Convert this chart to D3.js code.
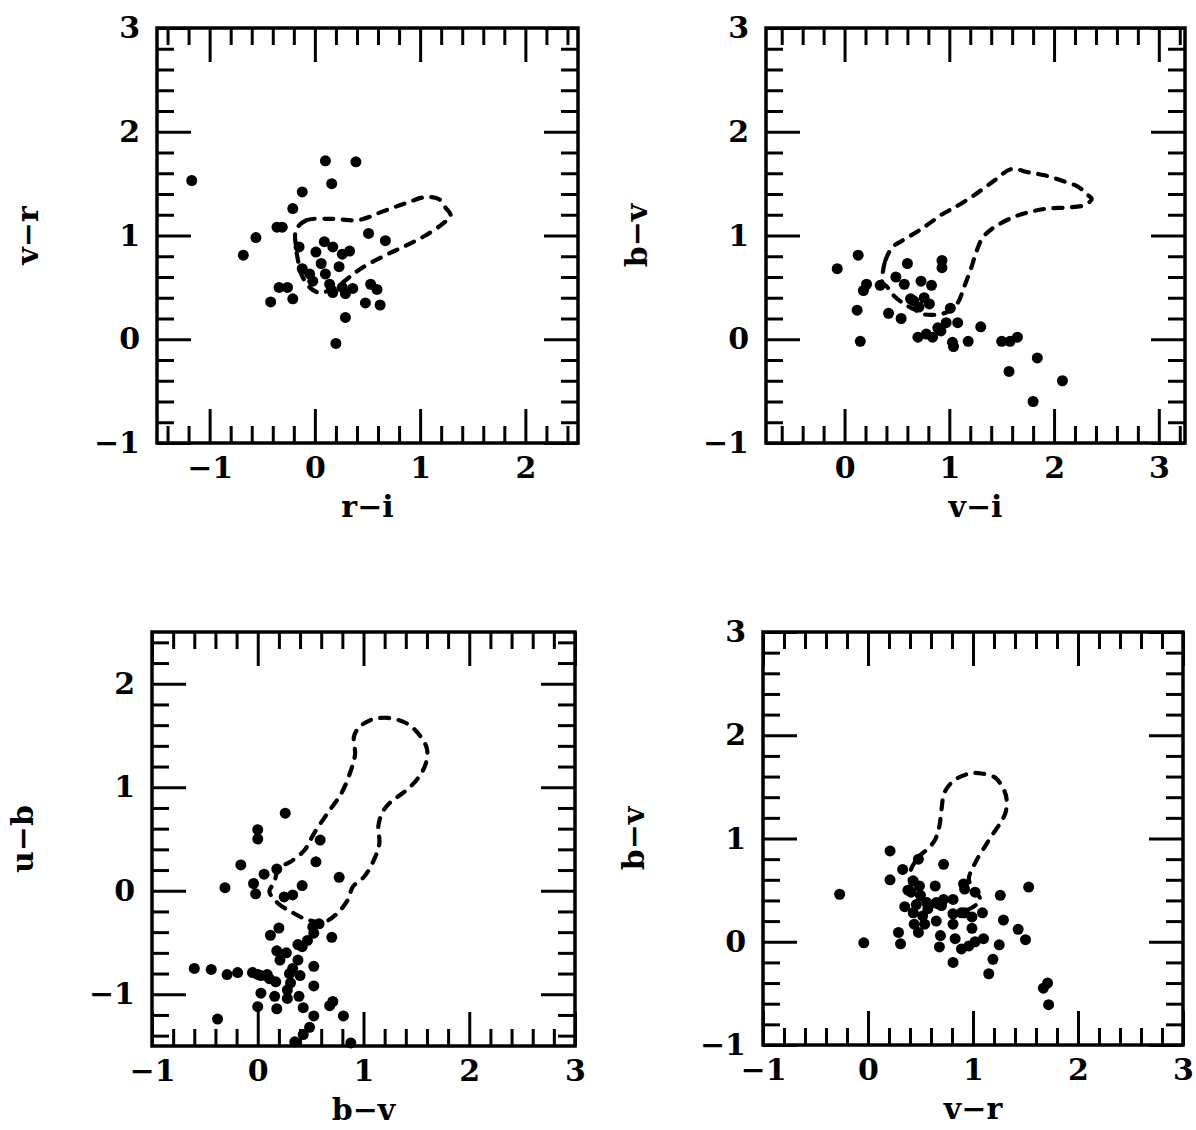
<!DOCTYPE html>
<html><head><meta charset="utf-8">
<script src="https://cdn.jsdelivr.net/npm/d3@7"></script>
<style>
html,body{margin:0;padding:0;background:#fff;}
svg text{font-family:"DejaVu Serif",serif;font-weight:bold;fill:#000;}
</style></head>
<body><svg id="c" width="1196" height="1130"></svg>
<script>
// ---------- data ----------
// panel 1: r-i vs v-r
const riVrPoints = [[-1.17,1.53],[0.10,1.72],[0.39,1.71],[0.16,1.50],[-0.12,1.42],[-0.21,1.26],[-0.36,1.08],[-0.31,1.08],
 [-0.56,0.98],[-0.68,0.81],[0.51,1.02],[0.67,0.95],[0.09,0.94],[0.17,0.89],[0.01,0.84],[0.33,0.85],[0.26,0.82],[-0.15,0.89],
 [0.23,0.70],[0.06,0.73],[-0.05,0.63],[0.10,0.63],[0.14,0.53],[0.17,0.45],[0.26,0.50],[0.36,0.49],[0.29,0.44],[0.53,0.53],
 [0.59,0.48],[0.48,0.35],[0.62,0.33],[-0.34,0.50],[-0.26,0.50],[-0.42,0.36],[-0.21,0.39],[0.29,0.21],[0.20,-0.04],[-0.12,0.68],[-0.02,0.56]];
const riVrContour = [[-0.18,1.05],[-0.085,1.145],[0.167,1.16],[0.42,1.15],[0.64,1.23],[0.86,1.31],[1.05,1.37],[1.18,1.35],[1.24,1.27],
 [1.29,1.19],[1.21,1.11],[1.05,1.0],[0.86,0.90],[0.67,0.81],[0.45,0.69],[0.33,0.60],[0.20,0.50],[0.04,0.45],[-0.05,0.50],[-0.13,0.63],[-0.16,0.76],[-0.18,0.89]];
// panel 2: v-i vs b-v
const viBvPoints = [[-0.07,0.68],[0.13,0.81],[0.21,0.53],[0.18,0.47],[0.12,0.28],[0.15,-0.02],[0.34,0.52],[0.42,0.25],[0.54,0.20],
 [0.60,0.73],[0.49,0.60],[0.57,0.53],[0.63,0.39],[0.73,0.56],[0.83,0.52],[0.76,0.40],[0.81,0.34],[0.71,0.31],[0.93,0.76],[0.93,0.69],
 [1.01,0.30],[0.70,0.02],[0.78,0.05],[0.84,0.02],[0.89,0.11],[0.97,0.16],[1.08,0.16],[1.03,-0.03],[1.04,-0.07],[1.18,-0.02],[1.30,0.12],
 [1.50,-0.02],[1.58,-0.02],[1.65,0.02],[1.57,-0.31],[1.84,-0.18],[2.08,-0.40],[1.80,-0.60],[0.92,0.08],[0.66,0.37]];
const viBvContour = [[0.36,0.60],[0.39,0.76],[0.46,0.89],[0.55,0.95],[0.73,1.06],[0.94,1.21],[1.05,1.27],[1.24,1.39],[1.43,1.53],[1.59,1.64],
 [1.75,1.61],[1.91,1.58],[2.07,1.53],[2.23,1.47],[2.31,1.40],[2.36,1.35],[2.28,1.29],[2.13,1.27],[1.94,1.26],[1.78,1.23],[1.62,1.18],
 [1.43,1.08],[1.32,0.98],[1.26,0.85],[1.21,0.69],[1.14,0.50],[1.08,0.35],[1.00,0.27],[0.89,0.24],[0.76,0.24],[0.66,0.29],[0.57,0.34],[0.47,0.42],[0.41,0.50],[0.36,0.55]];
// panel 3: b-v vs u-b
const bvUbPoints = [[0.26,0.75],[0.0,0.59],[0.0,0.50],[0.59,0.49],[0.55,0.28],[-0.16,0.25],[0.77,0.13],[0.18,0.21],[0.06,0.16],[-0.04,0.07],
 [-0.31,0.03],[-0.02,-0.03],[0.42,0.05],[0.33,-0.04],[0.25,-0.06],[0.20,-0.36],[0.12,-0.43],[0.58,-0.32],[0.53,-0.41],[0.70,-0.45],
 [0.47,-0.48],[0.42,-0.54],[0.18,-0.58],[0.27,-0.60],[0.38,-0.67],[0.21,-0.67],[-0.60,-0.75],[-0.44,-0.76],[-0.29,-0.81],[-0.19,-0.79],
 [-0.05,-0.79],[0.03,-0.82],[0.11,-0.85],[0.17,-0.88],[0.33,-0.75],[0.53,-0.73],[0.40,-0.82],[0.31,-0.89],[0.53,-0.92],[0.28,-1.04],
 [0.39,-1.02],[0.03,-0.99],[0.16,-1.02],[0.0,-1.12],[0.18,-1.14],[0.43,-1.13],[0.71,-1.07],[0.68,-1.11],[0.53,-1.21],[0.81,-1.21],
 [-0.38,-1.24],[0.49,-1.32],[0.43,-1.39],[0.35,-1.46],[0.88,-1.47],[0.30,-0.80],[0.28,-0.96],[0.38,-0.52],[0.52,-0.35],[0.0,-0.81],[0.09,-0.81]];
const bvUbContour = [[0.11,-0.01],[0.19,-0.12],[0.31,-0.20],[0.47,-0.28],[0.63,-0.30],[0.75,-0.22],[0.85,-0.09],[0.90,0.04],[1.01,0.14],
 [1.10,0.30],[1.15,0.46],[1.14,0.62],[1.18,0.76],[1.26,0.86],[1.38,0.95],[1.51,1.08],[1.59,1.23],[1.60,1.37],[1.54,1.49],[1.42,1.61],
 [1.23,1.67],[1.07,1.65],[0.96,1.58],[0.91,1.49],[0.92,1.32],[0.88,1.16],[0.79,0.94],[0.66,0.75],[0.53,0.55],[0.44,0.39],[0.31,0.28],
 [0.20,0.22],[0.16,0.10],[0.13,0.04]];
// panel 4: v-r vs b-v
const vrBvPoints = [[-0.27,0.46],[-0.04,-0.01],[0.21,0.88],[0.21,0.60],[0.48,0.80],[0.33,0.70],[0.43,0.59],[0.38,0.50],[0.49,0.54],
 [0.50,0.45],[0.35,0.34],[0.46,0.36],[0.56,0.38],[0.65,0.38],[0.72,0.41],[0.81,0.41],[0.64,0.54],[0.72,0.75],[0.91,0.56],[0.92,0.51],
 [1.02,0.48],[1.26,0.45],[1.53,0.53],[0.43,0.28],[0.52,0.25],[0.44,0.17],[0.54,0.17],[0.48,0.09],[0.65,0.20],[0.81,0.27],[0.89,0.28],
 [0.99,0.24],[1.09,0.28],[0.81,0.17],[0.99,0.13],[1.29,0.21],[1.43,0.12],[1.50,0.02],[0.29,0.09],[0.31,-0.02],[0.69,0.06],[0.68,-0.05],
 [0.83,0.03],[0.89,-0.07],[0.96,-0.04],[1.02,0.0],[1.10,0.03],[1.25,-0.03],[0.81,-0.20],[1.19,-0.17],[1.15,-0.31],[1.71,-0.40],
 [1.67,-0.45],[1.72,-0.61],[0.57,0.32],[0.41,0.48],[0.70,0.35],[0.92,0.28]];
const vrBvContour = [[0.40,0.67],[0.48,0.82],[0.57,0.90],[0.64,0.99],[0.68,1.12],[0.70,1.28],[0.73,1.45],[0.83,1.57],[0.97,1.63],[1.08,1.63],
 [1.21,1.59],[1.29,1.48],[1.32,1.38],[1.31,1.25],[1.26,1.15],[1.18,1.03],[1.10,0.90],[1.04,0.80],[0.99,0.70],[0.96,0.61],[1.00,0.51],
 [1.07,0.41],[1.02,0.35],[0.92,0.30],[0.80,0.28],[0.70,0.32],[0.60,0.36],[0.51,0.41],[0.44,0.48],[0.41,0.54]];
// tick labels
const xTicksA = [-1,0,1,2];
const xTicksB = [0,1,2,3];
const xTicksC = [-1,0,1,2,3];
const yTicksA = [-1,0,1,2,3];
const yTicksC = [-1,0,1,2];
const titles = ["r−i","v−r","v−i","b−v","b−v","u−b","v−r","b−v"];

// ---------- drawing ----------
const svg = d3.select("#c");
const fmt = d => (d < 0 ? "−" + Math.abs(d) : String(d));
const FS = 30;

function panel(o) {
  const g = svg.append("g");
  const x = d3.scaleLinear().domain(o.xDom).range([o.left, o.left + o.w]);
  const y = d3.scaleLinear().domain(o.yDom).range([o.top + o.h, o.top]);
  const step = 0.2;
  const rng = dom => d3.range(Math.ceil(dom[0]/step - 1e-6), Math.floor(dom[1]/step + 1e-6) + 1).map(k => +(k*step).toFixed(2));
  const xMinor = rng(o.xDom).filter(v => Math.abs(v - Math.round(v)) > 1e-6);
  const yMinor = rng(o.yDom).filter(v => Math.abs(v - Math.round(v)) > 1e-6);
  const xMajor = d3.range(Math.ceil(o.xDom[0]), Math.floor(o.xDom[1]) + 1);
  const yMajor = d3.range(Math.ceil(o.yDom[0]), Math.floor(o.yDom[1]) + 1);
  const MAJ = 34, MIN = 17;
  function ax(axis, tr, vals, size, labels, pad) {
    const a = axis.tickValues(vals).tickSize(-size).tickPadding(pad);
    if (labels) a.tickFormat(d => labels.includes(d) ? fmt(d) : ""); else a.tickFormat("");
    const s = g.append("g").attr("transform", tr).call(a);
    s.select(".domain").remove();
    s.selectAll("line").attr("stroke", "#000").attr("stroke-width", 3);
    s.selectAll("text").attr("font-size", FS).attr("fill", "#000").style("font-family", '"DejaVu Serif", serif').style("font-weight", "bold");
    return s;
  }
  const ib = o.top + o.h, il = o.left, ir = o.left + o.w, it = o.top;
  ax(d3.axisBottom(x), `translate(0,${ib})`, xMinor, MIN, null, 0);
  ax(d3.axisBottom(x), `translate(0,${ib})`, xMajor, MAJ, o.xTicks, 14);
  ax(d3.axisTop(x), `translate(0,${it})`, xMinor, MIN, null, 0);
  ax(d3.axisTop(x), `translate(0,${it})`, xMajor, MAJ, null, 0);
  ax(d3.axisLeft(y), `translate(${il},0)`, yMinor, MIN, null, 0);
  ax(d3.axisLeft(y), `translate(${il},0)`, yMajor, MAJ, o.yTicks, 17);
  ax(d3.axisRight(y), `translate(${ir},0)`, yMinor, MIN, null, 0);
  ax(d3.axisRight(y), `translate(${ir},0)`, yMajor, MAJ, null, 0);
  g.append("rect").attr("x", il).attr("y", it).attr("width", o.w).attr("height", o.h)
    .attr("fill", "none").attr("stroke", "#000").attr("stroke-width", 3.5);
  // contour
  const line = d3.line().x(d => x(d[0])).y(d => y(d[1])).curve(d3.curveCatmullRomClosed.alpha(0.5));
  g.append("path").attr("d", line(o.contour)).attr("fill", "none").attr("stroke", "#000")
    .attr("stroke-width", 4.2).attr("stroke-linecap", "round").attr("stroke-dasharray", "9 9.5");
  // points
  g.selectAll("circle.pt").data(o.pts).join("circle").attr("class", "pt")
    .attr("cx", d => x(d[0])).attr("cy", d => y(d[1])).attr("r", 5.5).attr("fill", "#000");
  // titles
  g.append("text").attr("x", (il + ir)/2).attr("y", ib + 66).attr("text-anchor", "middle")
    .attr("dominant-baseline", "middle").attr("font-size", FS).text(o.xTitle);
  g.append("text").attr("transform", `translate(${il - 127},${(it + ib)/2}) rotate(-90)`)
    .attr("text-anchor", "middle").attr("dominant-baseline", "middle").attr("font-size", FS).text(o.yTitle);
}

panel({left:157, top:28, w:421, h:415, xDom:[-1.5,2.5], yDom:[-1,3], pts:riVrPoints, contour:riVrContour,
  xTicks:xTicksA, yTicks:yTicksA, xTitle:titles[0], yTitle:titles[1]});
panel({left:766, top:28, w:419, h:415, xDom:[-0.75,3.25], yDom:[-1,3], pts:viBvPoints, contour:viBvContour,
  xTicks:xTicksB, yTicks:yTicksA, xTitle:titles[2], yTitle:titles[3]});
panel({left:152, top:632, w:423, h:414, xDom:[-1,3], yDom:[-1.5,2.5], pts:bvUbPoints, contour:bvUbContour,
  xTicks:xTicksC, yTicks:yTicksC, xTitle:titles[4], yTitle:titles[5]});
panel({left:763, top:632, w:420, h:413, xDom:[-1,3], yDom:[-1,3], pts:vrBvPoints, contour:vrBvContour,
  xTicks:xTicksC, yTicks:yTicksA, xTitle:titles[6], yTitle:titles[7]});
</script></body></html>
